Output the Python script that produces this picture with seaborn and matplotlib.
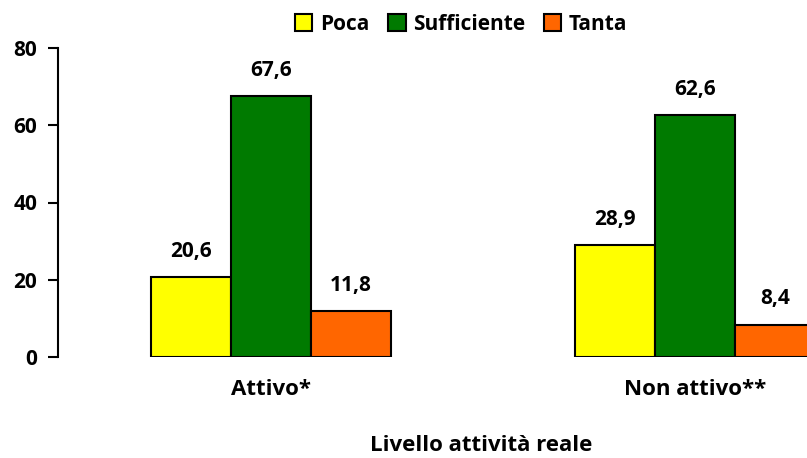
import matplotlib
matplotlib.use('Agg')
import matplotlib.pyplot as plt
import seaborn as sns
import pandas as pd
from matplotlib.patches import Patch

# Chart data
categories = ['Attivo*', 'Non attivo**']
series = ['Poca', 'Sufficiente', 'Tanta']
poca = [20.6, 28.9]
sufficiente = [67.6, 62.6]
tanta = [11.8, 8.4]
colors = ['#FFFF00', '#007A00', '#FF6600']
y_ticks = [0, 20, 40, 60, 80]

sns.set_theme(style='white')
plt.rcParams['font.family'] = ['Open Sans', 'DejaVu Sans']
plt.rcParams['font.weight'] = 'bold'
plt.rcParams['text.color'] = 'black'
plt.rcParams['xtick.color'] = 'black'
plt.rcParams['ytick.color'] = 'black'
plt.rcParams['axes.labelcolor'] = 'black'

FS = 15

# long format table for seaborn
df = pd.DataFrame({
    'livello': categories * 3,
    'serie': [s for s in series for _ in categories],
    'valore': poca + sufficiente + tanta,
})

fig = plt.figure(figsize=(8.07, 4.58), dpi=100)
ax = fig.add_axes([58 / 807, 101 / 458, 1 - 58 / 807, 309 / 458])

sns.barplot(data=df, x='livello', y='valore', hue='serie', order=categories,
            hue_order=series, palette=colors, width=0.566, gap=0,
            edgecolor='black', linewidth=1.5, saturation=1, ax=ax, legend=False)

for cont in ax.containers:
    ax.bar_label(cont, labels=[f'{v:.1f}'.replace('.', ',') for v in cont.datavalues],
                 padding=11, fontsize=FS, fontweight='bold')

ax.set_xlim(-0.502, 1.264)
ax.set_ylim(0, 80)
ax.set_yticks(y_ticks)
ax.set_yticklabels([str(t) for t in y_ticks], fontsize=FS, fontweight='bold')
ax.tick_params(axis='y', left=True, length=7, width=1.5, direction='out', pad=8)
ax.tick_params(axis='x', bottom=False, labelsize=16, pad=10)
for lab in ax.get_xticklabels():
    lab.set_fontweight('bold')

ax.set_ylabel('')
ax.set_xlabel('Livello attività reale', fontsize=16, fontweight='bold')
ax.xaxis.set_label_coords(0.565, -0.252)

for side in ['top', 'right', 'bottom']:
    ax.spines[side].set_visible(False)
ax.spines['left'].set_color('black')
ax.spines['left'].set_linewidth(1.5)

handles = [Patch(facecolor=c, edgecolor='black', linewidth=1.5) for c in colors]
fig.legend(handles, series, loc='center', bbox_to_anchor=(461 / 807, 1 - 24 / 458),
           ncol=3, frameon=False, handlelength=0.85, handleheight=0.85,
           handletextpad=0.35, columnspacing=0.9,
           prop={'size': FS, 'weight': 'bold'})

fig.savefig('out.png', dpi=100)
